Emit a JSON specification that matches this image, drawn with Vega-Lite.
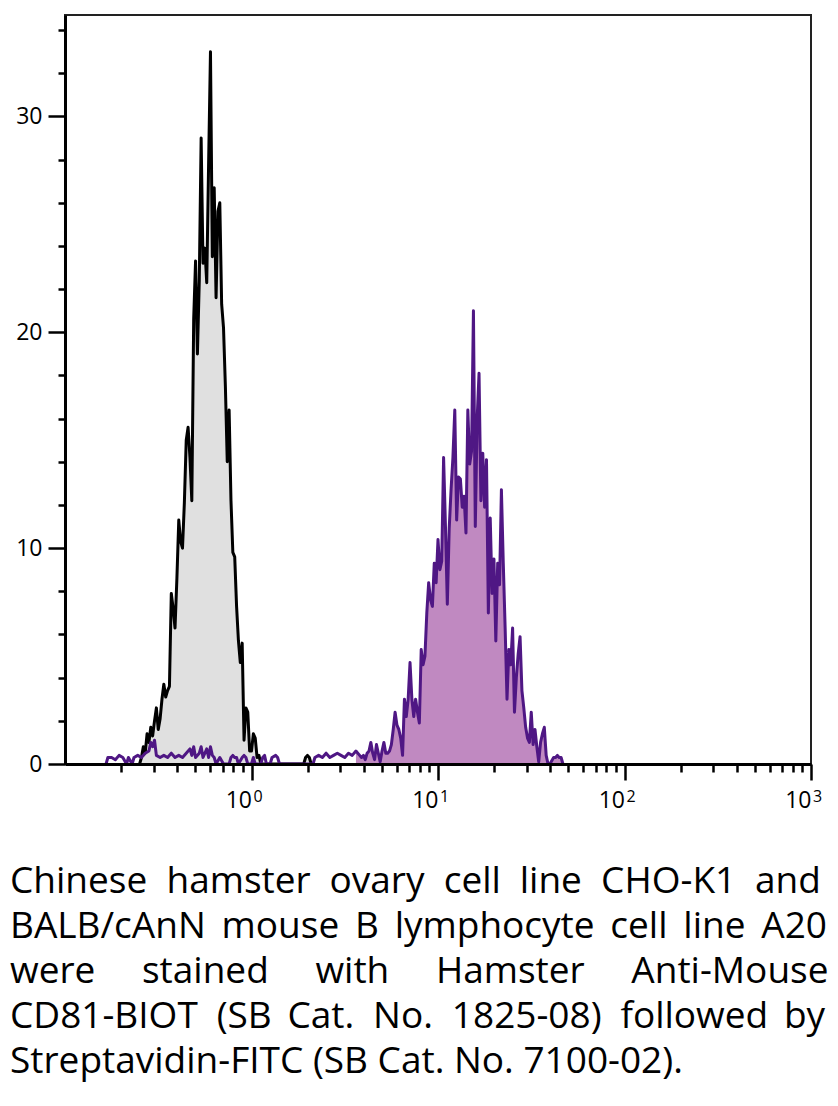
{
  "$schema": "https://vega.github.io/schema/vega-lite/v6.json",
  "width": 746,
  "height": 749,
  "autosize": "none",
  "padding": {"left": 65, "top": 15, "right": 27, "bottom": 342},
  "background": "white",
  "config": {
    "font": "Open Sans",
    "view": {"stroke": "#222222", "strokeWidth": 2}
  },
  "title": {
    "text": [
      "Chinese\u00a0 hamster\u2005 ovary\u00a0 cell\u2005 line\u00a0 CHO-K1\u2005 and",
      "BALB/cAnN\u2006 mouse\u2006 B\u2006 lymphocyte\u2006 cell\u2006 line\u2006 A20",
      "were\u2003 stained\u2003 with\u2003 Hamster\u2003 Anti-Mouse",
      "CD81-BIOT\u2005 (SB\u2009 Cat.\u2005 No.\u2005 1825-08)\u2005 followed\u2009 by",
      "Streptavidin-FITC (SB Cat. No. 7100-02)."
    ],
    "orient": "bottom",
    "anchor": "start",
    "frame": "group",
    "align": "left",
    "dx": -55,
    "offset": 52,
    "font": "Open Sans",
    "fontSize": 37,
    "fontWeight": "normal",
    "lineHeight": 45,
    "color": "black"
  },
  "datasets": {
    "cho": [
      {"v": 0.2512, "c": 0}, {"v": 0.2570, "c": 0.3}, {"v": 0.2630, "c": 0.8}, {"v": 0.2692, "c": 0.5},
      {"v": 0.2754, "c": 1.4}, {"v": 0.2818, "c": 1.0}, {"v": 0.2884, "c": 1.7}, {"v": 0.2951, "c": 1.3},
      {"v": 0.3020, "c": 2.0}, {"v": 0.3090, "c": 2.6}, {"v": 0.3162, "c": 1.6}, {"v": 0.3236, "c": 2.1},
      {"v": 0.3311, "c": 3.0}, {"v": 0.3388, "c": 3.7}, {"v": 0.3467, "c": 3.1}, {"v": 0.3548, "c": 3.4},
      {"v": 0.3631, "c": 3.6}, {"v": 0.3715, "c": 7.9}, {"v": 0.3802, "c": 7.2}, {"v": 0.3890, "c": 6.3},
      {"v": 0.3981, "c": 8.6}, {"v": 0.4074, "c": 11.3}, {"v": 0.4169, "c": 10.3}, {"v": 0.4266, "c": 10.0},
      {"v": 0.4365, "c": 12.1}, {"v": 0.4467, "c": 15.0}, {"v": 0.4571, "c": 15.6}, {"v": 0.4677, "c": 14.2},
      {"v": 0.4786, "c": 12.2}, {"v": 0.4898, "c": 20.6}, {"v": 0.5012, "c": 23.3}, {"v": 0.5129, "c": 19.0},
      {"v": 0.5248, "c": 22.4}, {"v": 0.5370, "c": 29.0}, {"v": 0.5495, "c": 23.2}, {"v": 0.5623, "c": 23.9},
      {"v": 0.5754, "c": 22.3}, {"v": 0.5888, "c": 27.8}, {"v": 0.6026, "c": 33.0}, {"v": 0.6166, "c": 23.5},
      {"v": 0.6310, "c": 26.7}, {"v": 0.6457, "c": 21.6}, {"v": 0.6607, "c": 25.6}, {"v": 0.6761, "c": 26.0},
      {"v": 0.6918, "c": 21.3}, {"v": 0.7079, "c": 20.2}, {"v": 0.7244, "c": 17.5}, {"v": 0.7413, "c": 14.0},
      {"v": 0.7586, "c": 16.4}, {"v": 0.7762, "c": 12.2}, {"v": 0.7943, "c": 9.8}, {"v": 0.8128, "c": 9.6},
      {"v": 0.8318, "c": 7.3}, {"v": 0.8511, "c": 5.7}, {"v": 0.8710, "c": 4.7}, {"v": 0.8913, "c": 5.6},
      {"v": 0.9120, "c": 1.1}, {"v": 0.9333, "c": 2.6}, {"v": 0.9550, "c": 2.4}, {"v": 0.9772, "c": 0.6},
      {"v": 1.0, "c": 0.6}, {"v": 1.0233, "c": 1.4}, {"v": 1.0471, "c": 1.2}, {"v": 1.0715, "c": 0.3},
      {"v": 1.0965, "c": 0.4}, {"v": 1.1220, "c": 0}, {"v": 1.1482, "c": 0}, {"v": 1.9055, "c": 0},
      {"v": 1.9498, "c": 0.3}, {"v": 1.9953, "c": 0.4}, {"v": 2.0417, "c": 0.3}, {"v": 2.0893, "c": 0}
    ],
    "a20": [
      {"v": 0.1660, "c": 0}, {"v": 0.1698, "c": 0.3}, {"v": 0.1778, "c": 0.3}, {"v": 0.1862, "c": 0.2},
      {"v": 0.1950, "c": 0.4}, {"v": 0.2042, "c": 0.3}, {"v": 0.2138, "c": 0}, {"v": 0.2188, "c": 0.3},
      {"v": 0.2291, "c": 0}, {"v": 0.2344, "c": 0.3}, {"v": 0.2455, "c": 0.4}, {"v": 0.2570, "c": 0.3},
      {"v": 0.2692, "c": 0.5}, {"v": 0.2818, "c": 0.6}, {"v": 0.2884, "c": 1.0}, {"v": 0.2951, "c": 0.8},
      {"v": 0.3020, "c": 1.1}, {"v": 0.3090, "c": 0.4}, {"v": 0.3236, "c": 0.3}, {"v": 0.3388, "c": 0.4},
      {"v": 0.3548, "c": 0.3}, {"v": 0.3715, "c": 0.5}, {"v": 0.3890, "c": 0.3}, {"v": 0.4074, "c": 0.4},
      {"v": 0.4266, "c": 0.3}, {"v": 0.4467, "c": 0.5}, {"v": 0.4677, "c": 0.7}, {"v": 0.4786, "c": 0.4},
      {"v": 0.4898, "c": 0.8}, {"v": 0.5012, "c": 0.3}, {"v": 0.5248, "c": 0.5}, {"v": 0.5370, "c": 0.8},
      {"v": 0.5495, "c": 0.3}, {"v": 0.5754, "c": 0.7}, {"v": 0.5888, "c": 0.3}, {"v": 0.6026, "c": 0.8},
      {"v": 0.6166, "c": 0.4}, {"v": 0.6310, "c": 0.3}, {"v": 0.6457, "c": 0}, {"v": 0.6761, "c": 0.3},
      {"v": 0.7079, "c": 0}, {"v": 0.7586, "c": 0}, {"v": 0.7762, "c": 0.3}, {"v": 0.7943, "c": 0.4},
      {"v": 0.8128, "c": 0.3}, {"v": 0.8318, "c": 0.3}, {"v": 0.8511, "c": 0}, {"v": 0.8913, "c": 0.3},
      {"v": 0.9120, "c": 0.4}, {"v": 0.9333, "c": 0.3}, {"v": 0.9550, "c": 0}, {"v": 1.0, "c": 0},
      {"v": 1.0233, "c": 0.3}, {"v": 1.0471, "c": 0}, {"v": 1.1220, "c": 0}, {"v": 1.1482, "c": 0.3},
      {"v": 1.1749, "c": 0.4}, {"v": 1.2023, "c": 0}, {"v": 1.2589, "c": 0}, {"v": 1.2882, "c": 0.3},
      {"v": 1.3490, "c": 0.4}, {"v": 1.3804, "c": 0.3}, {"v": 1.4125, "c": 0}, {"v": 2.1380, "c": 0},
      {"v": 2.1878, "c": 0.3}, {"v": 2.2909, "c": 0.4}, {"v": 2.3988, "c": 0.3}, {"v": 2.5119, "c": 0.5},
      {"v": 2.6303, "c": 0.3}, {"v": 2.7542, "c": 0.4}, {"v": 2.8840, "c": 0.5}, {"v": 3.0200, "c": 0.4},
      {"v": 3.1623, "c": 0.3}, {"v": 3.3113, "c": 0.5}, {"v": 3.4674, "c": 0.4}, {"v": 3.6308, "c": 0.6},
      {"v": 3.8019, "c": 0.4}, {"v": 3.8905, "c": 0.3}, {"v": 3.9811, "c": 0.4}, {"v": 4.0738, "c": 0.2},
      {"v": 4.1687, "c": 0.5}, {"v": 4.2658, "c": 0.6}, {"v": 4.3652, "c": 1.0}, {"v": 4.4668, "c": 0.5},
      {"v": 4.5709, "c": 0.2}, {"v": 4.6774, "c": 0.9}, {"v": 4.7863, "c": 0.5}, {"v": 4.8978, "c": 0.1},
      {"v": 5.0119, "c": 0.6}, {"v": 5.1286, "c": 1.0}, {"v": 5.2481, "c": 0.5}, {"v": 5.3703, "c": 0.5},
      {"v": 5.4954, "c": 0.6}, {"v": 5.6234, "c": 0.9}, {"v": 5.7544, "c": 1.6}, {"v": 5.8884, "c": 2.4},
      {"v": 6.0256, "c": 1.8}, {"v": 6.1660, "c": 1.6}, {"v": 6.3096, "c": 1.2}, {"v": 6.4565, "c": 0.4},
      {"v": 6.6069, "c": 3.0}, {"v": 6.7608, "c": 2.2}, {"v": 6.9183, "c": 3.0}, {"v": 7.0795, "c": 4.7},
      {"v": 7.2444, "c": 3.0}, {"v": 7.4131, "c": 2.2}, {"v": 7.5858, "c": 3.0}, {"v": 7.7625, "c": 2.4},
      {"v": 7.9433, "c": 1.9}, {"v": 8.1283, "c": 5.3}, {"v": 8.3176, "c": 4.6}, {"v": 8.5114, "c": 5.0},
      {"v": 8.7096, "c": 7.0}, {"v": 8.9125, "c": 8.4}, {"v": 9.1201, "c": 7.6}, {"v": 9.3325, "c": 7.3},
      {"v": 9.5499, "c": 9.3}, {"v": 9.7724, "c": 8.4}, {"v": 10.0, "c": 10.4}, {"v": 10.233, "c": 9.0},
      {"v": 10.471, "c": 9.4}, {"v": 10.715, "c": 14.2}, {"v": 10.965, "c": 11.0}, {"v": 11.220, "c": 7.4},
      {"v": 11.482, "c": 10.9}, {"v": 11.749, "c": 12.7}, {"v": 12.023, "c": 14.2}, {"v": 12.303, "c": 16.4},
      {"v": 12.589, "c": 11.3}, {"v": 12.882, "c": 13.3}, {"v": 13.183, "c": 13.2}, {"v": 13.490, "c": 11.9},
      {"v": 13.804, "c": 12.4}, {"v": 14.125, "c": 10.7}, {"v": 14.454, "c": 16.4}, {"v": 14.791, "c": 13.9},
      {"v": 15.136, "c": 14.5}, {"v": 15.488, "c": 21.0}, {"v": 15.849, "c": 11.0}, {"v": 16.218, "c": 16.0},
      {"v": 16.596, "c": 18.1}, {"v": 16.982, "c": 12.2}, {"v": 17.378, "c": 14.4}, {"v": 17.783, "c": 11.9},
      {"v": 18.197, "c": 14.1}, {"v": 18.621, "c": 7.0}, {"v": 19.055, "c": 11.4}, {"v": 19.498, "c": 7.9},
      {"v": 19.953, "c": 9.5}, {"v": 20.417, "c": 5.7}, {"v": 20.893, "c": 9.3}, {"v": 21.380, "c": 8.3},
      {"v": 21.878, "c": 12.7}, {"v": 22.387, "c": 9.3}, {"v": 22.909, "c": 6.3}, {"v": 23.442, "c": 3.0},
      {"v": 23.988, "c": 5.3}, {"v": 24.547, "c": 4.6}, {"v": 25.119, "c": 6.3}, {"v": 25.704, "c": 2.4},
      {"v": 26.303, "c": 4.0}, {"v": 26.915, "c": 5.1}, {"v": 27.542, "c": 5.9}, {"v": 28.184, "c": 3.4},
      {"v": 28.840, "c": 2.6}, {"v": 29.512, "c": 1.7}, {"v": 30.200, "c": 1.2}, {"v": 30.903, "c": 1.0},
      {"v": 31.623, "c": 2.4}, {"v": 32.359, "c": 0.9}, {"v": 33.113, "c": 1.6}, {"v": 33.884, "c": 0.8},
      {"v": 34.674, "c": 0.1}, {"v": 35.481, "c": 1.0}, {"v": 36.308, "c": 1.4}, {"v": 37.154, "c": 1.7},
      {"v": 38.019, "c": 0.4}, {"v": 38.905, "c": 0}, {"v": 39.811, "c": 0}, {"v": 41.687, "c": 0.3},
      {"v": 42.658, "c": 0.3}, {"v": 43.652, "c": 0.4}, {"v": 44.668, "c": 0.3}, {"v": 45.709, "c": 0.3},
      {"v": 46.774, "c": 0}
    ],
    "exps": [
      {"v": 1, "c": 0, "e": "0"}, {"v": 10, "c": 0, "e": "1"}, {"v": 100, "c": 0, "e": "2"}, {"v": 1000, "c": 0, "e": "3"}
    ]
  },
  "encoding": {
    "x": {
      "field": "v",
      "type": "quantitative",
      "scale": {"type": "log", "domain": [0.1, 1000], "nice": false},
      "axis": {
        "title": null,
        "grid": false,
        "zindex": 1,
        "values": [0.2, 0.3, 0.4, 0.5, 0.6, 0.7, 0.8, 0.9, 1, 2, 3, 4, 5, 6, 7, 8, 9, 10, 20, 30, 40, 50, 60, 70, 80, 90, 100, 200, 300, 400, 500, 600, 700, 800, 900, 1000],
        "labelExpr": "(datum.value == 1 || datum.value == 10 || datum.value == 100 || datum.value == 1000) ? '10' : ''",
        "labelAlign": "right",
        "labelBaseline": "top",
        "labelFontSize": 23,
        "labelFont": "Open Sans",
        "labelColor": "black",
        "labelPadding": 9,
        "labelOverlap": false,
        "labelBound": false,
        "labelFlush": false,
        "domainColor": "black",
        "domainWidth": 3,
        "tickColor": "black",
        "tickWidth": 2.5,
        "tickSize": {"condition": {"test": "datum.value == 1 || datum.value == 10 || datum.value == 100 || datum.value == 1000", "value": 16}, "value": 8}
      }
    },
    "y": {
      "field": "c",
      "type": "quantitative",
      "scale": {"domain": [0, 34.7], "nice": false, "zero": true},
      "axis": {
        "title": null,
        "grid": false,
        "zindex": 1,
        "values": [0, 2, 4, 6, 8, 10, 12, 14, 16, 18, 20, 22, 24, 26, 28, 30, 32, 34],
        "labelExpr": "datum.value % 10 === 0 ? datum.label : ''",
        "labelFontSize": 23,
        "labelFont": "Open Sans",
        "labelColor": "black",
        "labelPadding": 6,
        "labelOverlap": false,
        "labelBound": false,
        "labelFlush": false,
        "domainColor": "black",
        "domainWidth": 3,
        "tickColor": "black",
        "tickWidth": 2.5,
        "tickSize": {"condition": {"test": "datum.value % 10 === 0", "value": 17}, "value": 7}
      }
    }
  },
  "layer": [
    {
      "data": {"name": "cho"},
      "mark": {"type": "area", "color": "#e0e0e0", "interpolate": "linear"}
    },
    {
      "data": {"name": "cho"},
      "mark": {"type": "line", "color": "#000000", "strokeWidth": 3, "strokeJoin": "round"}
    },
    {
      "data": {"name": "a20"},
      "transform": [{"filter": "datum.v > 3.5"}],
      "mark": {"type": "area", "color": "#c089c1", "interpolate": "linear"}
    },
    {
      "data": {"name": "a20"},
      "mark": {"type": "line", "color": "#4f1784", "strokeWidth": 3, "strokeJoin": "round"}
    },
    {
      "data": {"name": "exps"},
      "mark": {"type": "text", "align": "left", "baseline": "top", "dx": 2, "dy": 25, "fontSize": 16, "font": "Open Sans", "fill": "black"},
      "encoding": {
        "text": {"field": "e", "type": "nominal"}
      }
    }
  ]
}
